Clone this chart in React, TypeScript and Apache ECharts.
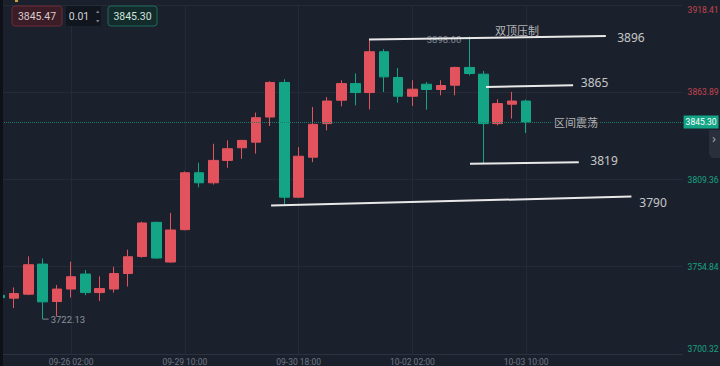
import React, { useEffect, useRef } from "react";
import * as echarts from "echarts";

// 4h candle times (index 0 is the partly hidden candle at the left edge)
const times: string[] = [
  "09-25 06:00", "09-25 10:00", "09-25 14:00", "09-25 18:00", "09-25 22:00",
  "09-26 02:00", "09-26 06:00", "09-26 10:00", "09-26 14:00", "09-26 18:00", "09-26 22:00",
  "09-27 02:00",
  "09-29 06:00", "09-29 10:00", "09-29 14:00", "09-29 18:00", "09-29 22:00",
  "09-30 02:00", "09-30 06:00", "09-30 10:00", "09-30 14:00", "09-30 18:00", "09-30 22:00",
  "10-01 02:00", "10-01 06:00", "10-01 10:00", "10-01 14:00", "10-01 18:00", "10-01 22:00",
  "10-02 02:00", "10-02 06:00", "10-02 10:00", "10-02 14:00", "10-02 18:00", "10-02 22:00",
  "10-03 02:00", "10-03 06:00", "10-03 10:00",
];
const futureTimes: string[] = [
  "10-03 14:00", "10-03 18:00", "10-03 22:00", "10-04 02:00", "10-06 06:00", "10-06 10:00",
  "10-06 14:00", "10-06 18:00", "10-06 22:00", "10-07 02:00", "10-07 06:00",
];

// [open, close, low, high]
const candleOHLC: number[][] = [
  [3737.0, 3735.5, 3734.5, 3737.5],
  [3735.2, 3738.1, 3729.0, 3741.9],
  [3737.7, 3756.1, 3737.1, 3761.3],
  [3756.5, 3732.9, 3722.13, 3760.0],
  [3733.1, 3740.9, 3724.0, 3743.4],
  [3740.9, 3748.6, 3735.6, 3758.0],
  [3750.3, 3738.7, 3737.1, 3752.8],
  [3738.7, 3741.2, 3733.5, 3748.8],
  [3740.9, 3750.6, 3738.7, 3754.8],
  [3750.6, 3761.1, 3742.5, 3765.5],
  [3761.3, 3782.2, 3760.5, 3783.0],
  [3782.6, 3760.3, 3759.8, 3783.0],
  [3757.8, 3777.8, 3757.3, 3788.5],
  [3778.0, 3813.6, 3777.7, 3814.4],
  [3813.6, 3807.3, 3804.5, 3819.8],
  [3807.3, 3821.3, 3806.2, 3831.7],
  [3821.3, 3828.6, 3816.7, 3833.8],
  [3829.2, 3833.8, 3822.3, 3834.1],
  [3832.7, 3848.0, 3825.5, 3851.2],
  [3848.4, 3870.0, 3842.8, 3870.8],
  [3870.0, 3798.3, 3793.7, 3872.0],
  [3798.3, 3823.9, 3797.9, 3829.6],
  [3823.3, 3843.8, 3820.2, 3854.7],
  [3844.3, 3858.4, 3840.1, 3860.9],
  [3858.9, 3869.3, 3855.1, 3871.4],
  [3869.3, 3863.7, 3855.7, 3875.6],
  [3863.7, 3889.2, 3853.2, 3896.5],
  [3889.2, 3873.5, 3864.1, 3890.8],
  [3873.1, 3861.4, 3857.4, 3879.1],
  [3861.4, 3865.8, 3855.3, 3871.4],
  [3868.9, 3865.6, 3853.0, 3870.3],
  [3865.6, 3868.1, 3862.0, 3871.4],
  [3868.3, 3879.4, 3862.0, 3879.8],
  [3879.4, 3875.6, 3874.5, 3898.6],
  [3875.2, 3844.3, 3819.6, 3877.2],
  [3844.3, 3856.8, 3843.2, 3859.5],
  [3856.4, 3858.4, 3847.4, 3864.1],
  [3858.4, 3845.3, 3838.4, 3859.3],
];

const yTickLabels: string[] = ["3700.32", "3754.84", "3809.36", "3863.89", "3918.41"];
const yMin = 3700.32;
const yMax = 3918.41;
const lastPrice = 3845.3;
const bidPrice = "3845.47";
const stepSize = "0.01";
const askPrice = "3845.30";
const highMark = { index: 33, value: 3898.6, text: "3898.60" };
const lowMark = { index: 3, value: 3722.13, text: "3722.13" };

// hand-drawn lines: [[slot, price], [slot, price]]
const resistLine = [[25.95, 3896.9], [42.6, 3899.0]];
const upperLine = [[34.18, 3867.2], [40.3, 3868.3]];
const lowerLine = [[33.05, 3819.2], [40.7, 3820.2]];
const supportLine = [[19.06, 3793.1], [44.4, 3798.7]];
const noteLabels: { pos: number[]; text: string }[] = [
  { pos: [44.37, 3898.4], text: "3896" },
  { pos: [41.81, 3870.2], text: "3865" },
  { pos: [42.48, 3821.3], text: "3819" },
  { pos: [45.92, 3795.0], text: "3790" },
  { pos: [36.36, 3902.6], text: "双顶压制" },
  { pos: [40.51, 3845.1], text: "区间震荡" },
];

const RED = "#e2535e";
const GREEN = "#13a586";
const BG = "#1b212c";
const GRID = "#242b37";
const FONT = '"Noto Sans", "Noto Sans CJK SC", sans-serif';
const NUM = "Roboto, sans-serif";

export default function App() {
  const ref = useRef<HTMLDivElement>(null);
  useEffect(() => {
    document.body.style.margin = "0";
    const chart = echarts.init(ref.current!, null, { renderer: "svg" });
    const slots = times.concat(futureTimes);
    const showIdx = (i: number) => i <= times.length - 1 && (i - 5) % 8 === 0;
    const lineSeries = [resistLine, upperLine, lowerLine, supportLine].map((d) => ({
      type: "line",
      xAxisIndex: 1,
      data: d,
      symbol: "none",
      silent: true,
      z: 5,
      lineStyle: { color: "#e8e8e8", width: 2 },
    }));
    chart.setOption({
      animation: false,
      backgroundColor: BG,
      textStyle: { fontFamily: FONT },
      grid: { left: 0, right: 37.4, top: 5, bottom: 12, outerBoundsMode: "none", containLabel: false },
      xAxis: [
        {
          type: "category",
          data: slots,
          boundaryGap: false,
          axisLine: { show: true, lineStyle: { color: "#2b3341" } },
          axisTick: { show: false },
          axisLabel: {
            interval: (i: number) => showIdx(i),
            color: "#6f7785",
            fontSize: 8.5,
            fontFamily: NUM,
            margin: 3,
          },
          splitLine: {
            show: true,
            interval: (i: number) => showIdx(i),
            lineStyle: { color: GRID },
          },
        },
        { type: "value", min: 0, max: slots.length - 1, show: false },
      ],
      yAxis: {
        type: "value",
        position: "right",
        min: yMin,
        max: yMax,
        interval: (yMax - yMin) / 4,
        axisLine: { show: true, lineStyle: { color: "#2b3341" } },
        axisTick: { show: false },
        splitLine: { show: true, lineStyle: { color: GRID } },
        axisLabel: {
          fontSize: 8.5,
          fontFamily: NUM,
          margin: 5,
          color: (v: any) => (Number(v) > lastPrice ? "#c4434f" : "#17a283"),
          formatter: (v: number) => {
            let best = 0;
            yTickLabels.forEach((t, i) => {
              if (Math.abs(Number(t) - v) < Math.abs(Number(yTickLabels[best]) - v)) best = i;
            });
            const t = yTickLabels[best];
            if (best === yTickLabels.length - 1) return `{top|${t}}`;
            if (best === 0) return `{bot|${t}}`;
            return t;
          },
          rich: {
            top: { padding: [10, 0, 0, 0], fontSize: 8.5, fontFamily: NUM },
            bot: { padding: [0, 0, 11, 0], fontSize: 8.5, fontFamily: NUM },
          },
        },
      },
      series: [
        {
          type: "candlestick",
          data: candleOHLC,
          barWidth: 10,
          clip: true,
          itemStyle: {
            color: RED,
            color0: GREEN,
            borderColor: RED,
            borderColor0: GREEN,
            borderWidth: 1,
          },
          markLine: {
            silent: true,
            symbol: ["none", "none"],
            data: [{ yAxis: lastPrice }],
            lineStyle: { type: "dotted", color: "#1c7c68", width: 1 },
            label: {
              position: "end",
              distance: 1,
              formatter: lastPrice.toFixed(2),
              backgroundColor: GREEN,
              color: "#ffffff",
              fontSize: 8.5,
              fontFamily: NUM,
              padding: [2, 2, 2, 2],
            },
          },
          markPoint: {
            silent: true,
            data: [
              {
                coord: [highMark.index, highMark.value],
                symbol: "circle",
                symbolSize: 0,
                label: {
                  show: true,
                  position: "left",
                  distance: 8,
                  offset: [0, 3],
                  formatter: highMark.text,
                  color: "#7f8793",
                  fontSize: 9.5,
                  fontFamily: NUM,
                },
              },
              {
                coord: [lowMark.index, lowMark.value],
                symbol: "rect",
                symbolSize: [6, 1],
                symbolOffset: [3, 0],
                itemStyle: { color: "#7f8793" },
                label: {
                  show: true,
                  position: "right",
                  distance: 2,
                  formatter: lowMark.text,
                  color: "#8b929c",
                  fontSize: 9.5,
                  fontFamily: NUM,
                },
              },
            ],
          },
        },
        ...lineSeries,
        {
          type: "scatter",
          xAxisIndex: 1,
          silent: true,
          symbol: "circle",
          symbolSize: 1,
          z: 6,
          itemStyle: { color: "rgba(0,0,0,0)" },
          data: noteLabels.map((n) => ({
            name: n.text,
            value: n.pos,
            label: {
              show: true,
              position: "inside",
              formatter: "{b}",
              color: /\d/.test(n.text) ? "#f2f2f2" : "#dcdcdc",
              fontSize: /\d/.test(n.text) ? 12 : 11,
              backgroundColor: n.text === "区间震荡" ? BG : "transparent",
              padding: [1, 2],
            },
          })),
        },
      ],
      graphic: [
        { type: "rect", shape: { x: 0, y: 0, width: 3, height: 366 }, style: { fill: "#0d1016" }, z: 100 },
        { type: "rect", shape: { x: 15, y: 0, width: 3, height: 2 }, style: { fill: "#c9a23e" }, z: 100 },
        {
          type: "rect",
          shape: { x: 12, y: 6, width: 50, height: 20, r: 3 },
          style: { fill: "#3a1d26", stroke: "#6e2b36", lineWidth: 1 },
          z: 100,
        },
        {
          type: "text",
          x: 37, y: 16,
          style: { text: bidPrice, fill: "#d9c9cb", font: `10.5px ${NUM}`, align: "center", verticalAlign: "middle" },
          z: 101,
        },
        { type: "rect", shape: { x: 66, y: 6, width: 35, height: 20, r: 2 }, style: { fill: "#11161e" }, z: 100 },
        {
          type: "text",
          x: 79, y: 16,
          style: { text: stepSize, fill: "#d0d3d8", font: `10.5px ${NUM}`, align: "center", verticalAlign: "middle" },
          z: 101,
        },
        { type: "polygon", shape: { points: [[96, 13], [99.5, 13], [97.75, 10.5]] }, style: { fill: "#7b838f" }, z: 101 },
        { type: "polygon", shape: { points: [[96, 20], [99.5, 20], [97.75, 22.5]] }, style: { fill: "#7b838f" }, z: 101 },
        {
          type: "rect",
          shape: { x: 108, y: 6, width: 49, height: 20, r: 3 },
          style: { fill: "#132c2b", stroke: "#1e6b5c", lineWidth: 1 },
          z: 100,
        },
        {
          type: "text",
          x: 132.5, y: 16,
          style: { text: askPrice, fill: "#cfe3de", font: `10.5px ${NUM}`, align: "center", verticalAlign: "middle" },
          z: 101,
        },
        {
          type: "polygon",
          shape: { points: [[709, 130], [720, 130], [720, 158], [712, 158], [709, 154]] },
          style: { fill: "#2a303b" },
          z: 100,
        },
        {
          type: "text",
          x: 714, y: 138,
          style: { text: "›", fill: "#9aa1ab", font: `13px ${FONT}`, align: "center", verticalAlign: "middle" },
          z: 101,
        },
      ],
    });
    return () => chart.dispose();
  }, []);
  return <div ref={ref} style={{ width: 720, height: 366 }} />;
}
